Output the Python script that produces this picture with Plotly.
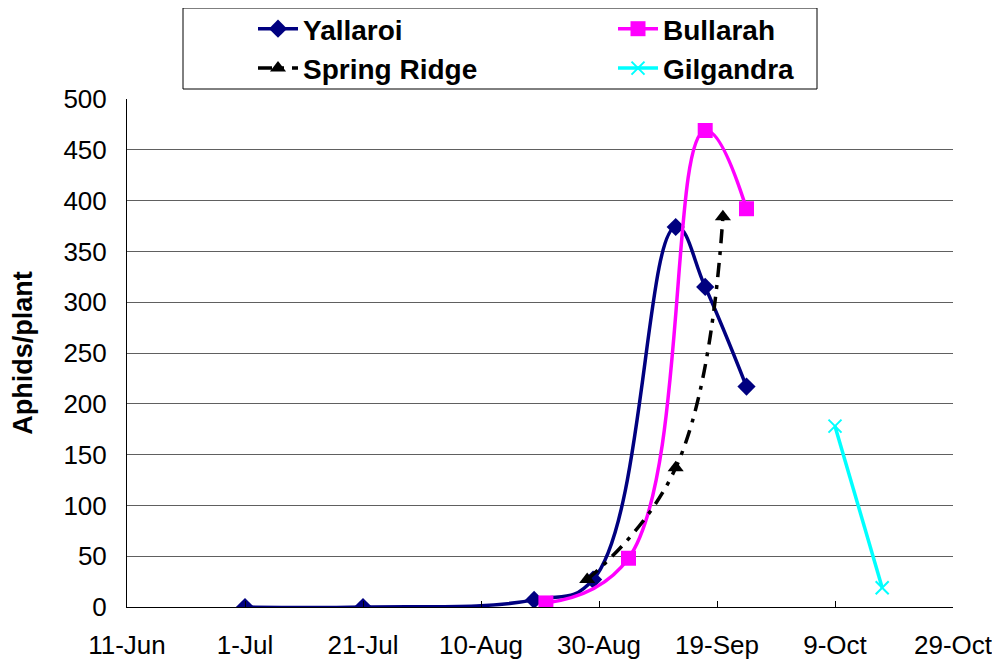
import plotly.graph_objects as go

# ---- data ----
yallaroi_dates = ["2001-07-01", "2001-07-21", "2001-08-19", "2001-08-29",
                  "2001-09-12", "2001-09-17", "2001-09-24"]
yallaroi_vals = [0, 0, 7, 27, 374, 315, 217]

bullarah_dates = ["2001-08-21", "2001-09-04", "2001-09-17", "2001-09-24"]
bullarah_vals = [4, 48, 469, 392]

spring_dates = ["2001-08-28", "2001-09-12", "2001-09-20"]
spring_vals = [27, 137, 384]

gilgandra_dates = ["2001-10-09", "2001-10-17"]
gilgandra_vals = [178, 19]

FONT = "Liberation Sans, Arial, sans-serif"

# the page body adds an 8px offset; plot area target is x 127..953, y 99..607
OFF = 8

fig = go.Figure()

fig.add_trace(go.Scatter(
    name="Yallaroi", x=yallaroi_dates, y=yallaroi_vals,
    mode="lines+markers",
    line=dict(color="#000080", width=3.5, shape="spline", smoothing=1.2),
    marker=dict(symbol="diamond", size=14, color="#000080"),
))
fig.add_trace(go.Scatter(
    name="Bullarah", x=bullarah_dates, y=bullarah_vals,
    mode="lines+markers",
    line=dict(color="#FF00FF", width=3.5, shape="spline", smoothing=1.2),
    marker=dict(symbol="square", size=15, color="#FF00FF"),
))
fig.add_trace(go.Scatter(
    name="Spring Ridge", x=spring_dates, y=spring_vals,
    mode="lines+markers",
    line=dict(color="black", width=3.5, dash="14px,8px,4px,8px", shape="spline", smoothing=1.2),
    marker=dict(symbol="triangle-up", size=14, color="black"),
))
fig.add_trace(go.Scatter(
    name="Gilgandra", x=gilgandra_dates, y=gilgandra_vals,
    mode="lines+markers",
    line=dict(color="#00FFFF", width=3.5),
    marker=dict(symbol="x-thin", size=13, line=dict(color="#00FFFF", width=2)),
))

# legend frame (Excel style, wider than the entries)
fig.add_shape(type="rect", xref="paper", yref="paper",
              x0=(183 - 127) / 826, x1=(817 - 127) / 826,
              y0=(607 - 89) / 508, y1=(607 - 8) / 508,
              line=dict(color="black", width=1), fillcolor="rgba(0,0,0,0)")

fig.update_layout(
    width=1000, height=664,
    margin=dict(l=127 - OFF, r=1000 - 953 + OFF, t=99 - OFF, b=664 - 607 + OFF,
                autoexpand=False),
    paper_bgcolor="white", plot_bgcolor="white",
    font=dict(family=FONT, size=26, color="black"),
    legend=dict(
        orientation="h", x=(253 - 127) / 826, y=(607 - 4) / 508,
        xanchor="left", yanchor="top",
        entrywidth=305, borderwidth=0, bgcolor="rgba(0,0,0,0)",
        font=dict(family=FONT, size=28, weight="bold"),
        itemwidth=40,
    ),
)
fig.update_xaxes(
    type="date", range=["2001-06-11", "2001-10-29"],
    tick0="2001-06-11", dtick=20 * 86400000, tickformat="%-d-%b",
    showgrid=False, showline=True, linecolor="black", linewidth=1,
    ticks="inside", ticklen=6, tickcolor="black", zeroline=False,
    ticklabelstandoff=15,
)
fig.update_yaxes(
    range=[0, 500], dtick=50,
    title=dict(text="<b>Aphids/plant</b>", font=dict(size=27), standoff=26),
    showgrid=True, gridcolor="#606060", gridwidth=1,
    showline=True, linecolor="black", linewidth=1,
    ticks="", zeroline=False, ticklabelstandoff=14,
)

fig.write_html("out.html")
